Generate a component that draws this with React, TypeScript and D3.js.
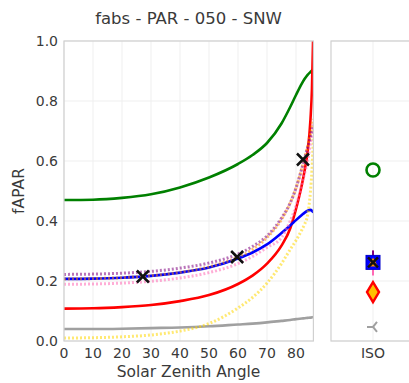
import React from "react";
import * as d3 from "d3";

const angles = [0, 10, 20, 30, 40, 50, 60, 65, 70, 75, 78, 80, 82, 83, 84, 85, 85.5, 86];

const greenVals = [0.47, 0.471, 0.477, 0.489, 0.512, 0.545, 0.59, 0.62, 0.66, 0.725, 0.78, 0.82, 0.858, 0.874, 0.887, 0.897, 0.902, 0.906];
const redVals = [0.108, 0.109, 0.113, 0.12, 0.133, 0.153, 0.19, 0.218, 0.258, 0.318, 0.375, 0.44, 0.52, 0.57, 0.63, 0.74, 0.84, 1.05];
const blueVals = [0.207, 0.208, 0.211, 0.217, 0.228, 0.245, 0.275, 0.295, 0.322, 0.36, 0.385, 0.403, 0.42, 0.428, 0.434, 0.437, 0.434, 0.428];
const grayVals = [0.04, 0.04, 0.041, 0.043, 0.045, 0.049, 0.055, 0.058, 0.062, 0.067, 0.07, 0.073, 0.075, 0.076, 0.077, 0.078, 0.079, 0.08];
const goldVals = [0.01, 0.011, 0.014, 0.02, 0.033, 0.058, 0.11, 0.145, 0.193, 0.258, 0.305, 0.335, 0.37, 0.39, 0.42, 0.5, 0.57, 0.68];
const purpleVals = [0.222, 0.223, 0.226, 0.232, 0.243, 0.26, 0.29, 0.315, 0.35, 0.41, 0.46, 0.51, 0.575, 0.61, 0.645, 0.68, 0.7, 0.72];
const orangeVals = [0.207, 0.208, 0.211, 0.218, 0.229, 0.247, 0.28, 0.305, 0.345, 0.405, 0.46, 0.51, 0.575, 0.61, 0.65, 0.69, 0.715, 0.74];
const pinkVals = [0.189, 0.19, 0.193, 0.199, 0.21, 0.228, 0.258, 0.282, 0.312, 0.345, 0.4, 0.45, 0.52, 0.56, 0.6, 0.66, 0.69, 0.72];

// black crosses on the curves
const crossAngles = [27.2, 59.7, 82.4];
const crossVals = [0.215, 0.28, 0.605];

// isotropic values shown in the side panel
const isoGreen = 0.57;
const isoBlue = 0.262;
const isoRed = 0.163;
const isoGray = 0.047;

const xTicks = [0, 10, 20, 30, 40, 50, 60, 70, 80];
const yTicks = [0, 0.2, 0.4, 0.6, 0.8, 1.0];

const font = "'DejaVu Sans', sans-serif";
const txt = "#3a3a3a";

export default function App() {
  const x = d3.scaleLinear().domain([0, 86]).range([64, 313.4]);
  const y = d3.scaleLinear().domain([0, 1]).range([341, 41]);
  const isoX = 373;

  const line = (vals: number[]) =>
    d3
      .line<number>()
      .x((_, i) => x(angles[i]))
      .y((d) => y(d))
      .curve(d3.curveMonotoneX)(vals) || "";

  const solid = [
    { vals: grayVals, color: "#a0a0a0" },
    { vals: greenVals, color: "#008000" },
    { vals: redVals, color: "#ff0000" },
    { vals: blueVals, color: "#0000ff" },
  ];
  const dotted = [
    { vals: goldVals, color: "#ffd700" },
    { vals: pinkVals, color: "#ff69b4" },
    { vals: orangeVals, color: "#ff8c00" },
    { vals: purpleVals, color: "#800080" },
  ];

  const cross = (cx: number, cy: number, s: number, k: string) => (
    <path
      key={k}
      d={`M${cx - s},${cy - s}L${cx + s},${cy + s}M${cx - s},${cy + s}L${cx + s},${cy - s}`}
      stroke="#111"
      strokeWidth={2.5}
      fill="none"
    />
  );

  return (
    <svg width={409} height={383} style={{ position: "absolute", left: 0, top: 0, background: "#fff" }}>
      <defs>
        <clipPath id="plotClip">
          <rect x={64} y={41} width={249.4} height={300} />
        </clipPath>
      </defs>
      <text x={188.5} y={24} textAnchor="middle" fontFamily={font} fontSize={16.5} fill={txt}>
        fabs - PAR - 050 - SNW
      </text>

      {/* grid */}
      {xTicks.map((t) => (
        <line key={"gx" + t} x1={x(t)} x2={x(t)} y1={41} y2={341} stroke="#efefef" />
      ))}
      {yTicks.map((t) => (
        <g key={"gy" + t}>
          <line x1={64} x2={313.4} y1={y(t)} y2={y(t)} stroke="#efefef" />
          <line x1={331} x2={415} y1={y(t)} y2={y(t)} stroke="#efefef" />
        </g>
      ))}
      <line x1={isoX} x2={isoX} y1={41} y2={341} stroke="#efefef" />

      {/* curves */}
      <g clipPath="url(#plotClip)" fill="none">
        {solid.map((s, i) => (
          <path key={"s" + i} d={line(s.vals)} stroke={s.color} strokeWidth={2.6} />
        ))}
        {dotted.map((s, i) => (
          <path
            key={"d" + i}
            d={line(s.vals)}
            stroke={s.color}
            strokeWidth={3}
            strokeDasharray="2,2"
            opacity={0.55}
          />
        ))}
        {crossAngles.map((a, i) => cross(x(a), y(crossVals[i]), 6, "c" + i))}
      </g>

      {/* frames */}
      <rect x={64} y={41} width={249.4} height={300} fill="none" stroke="#d0d0d0" strokeWidth={1.2} />
      <rect x={331} y={41} width={90} height={300} fill="none" stroke="#d0d0d0" strokeWidth={1.2} />

      {/* tick labels */}
      {yTicks.map((t) => (
        <text key={"ty" + t} x={58} y={y(t) + 5} textAnchor="end" fontFamily={font} fontSize={14} fill={txt}>
          {t.toFixed(1)}
        </text>
      ))}
      {xTicks.map((t) => (
        <text key={"tx" + t} x={x(t)} y={358} textAnchor="middle" fontFamily={font} fontSize={14} fill={txt}>
          {t}
        </text>
      ))}
      <text x={isoX} y={358} textAnchor="middle" fontFamily={font} fontSize={14} fill={txt}>
        ISO
      </text>
      <text x={188.5} y={377} textAnchor="middle" fontFamily={font} fontSize={15.5} fill={txt}>
        Solar Zenith Angle
      </text>
      <text
        transform={`translate(24,${y(0.5)}) rotate(-90)`}
        textAnchor="middle"
        fontFamily={font}
        fontSize={15.5}
        fill={txt}
      >
        fAPAR
      </text>

      {/* iso markers */}
      <circle cx={isoX} cy={y(isoGreen)} r={6.5} fill="none" stroke="#008000" strokeWidth={2.6} />
      <line x1={isoX} x2={isoX} y1={y(isoBlue) - 12} y2={y(isoBlue) + 13} stroke="#ff69b4" strokeWidth={2} />
      <line x1={isoX} x2={isoX} y1={y(isoBlue) - 12} y2={y(isoBlue) - 6} stroke="#800080" strokeWidth={2} />
      <rect x={isoX - 7} y={y(isoBlue) - 7} width={14} height={14} fill="#0000ff" stroke="#0000cc" />
      <path
        d={`M${isoX},${y(isoBlue) - 5}L${isoX + 5},${y(isoBlue) + 4}L${isoX - 5},${y(isoBlue) + 4}Z`}
        fill="#ff8c00"
      />
      {cross(isoX, y(isoBlue), 5, "isoc")}
      <path
        d={`M${isoX},${y(isoRed) - 10}L${isoX + 6},${y(isoRed)}L${isoX},${y(isoRed) + 10}L${isoX - 6},${y(isoRed)}Z`}
        fill="#ffc000"
        stroke="#ff0000"
        strokeWidth={2.4}
      />
      <path
        d={`M${isoX - 6},${y(isoGray)}L${isoX},${y(isoGray)}L${isoX + 4},${y(isoGray) - 5}M${isoX},${y(isoGray)}L${isoX + 4},${y(isoGray) + 5}`}
        stroke="#a0a0a0"
        strokeWidth={2}
        fill="none"
      />
    </svg>
  );
}
